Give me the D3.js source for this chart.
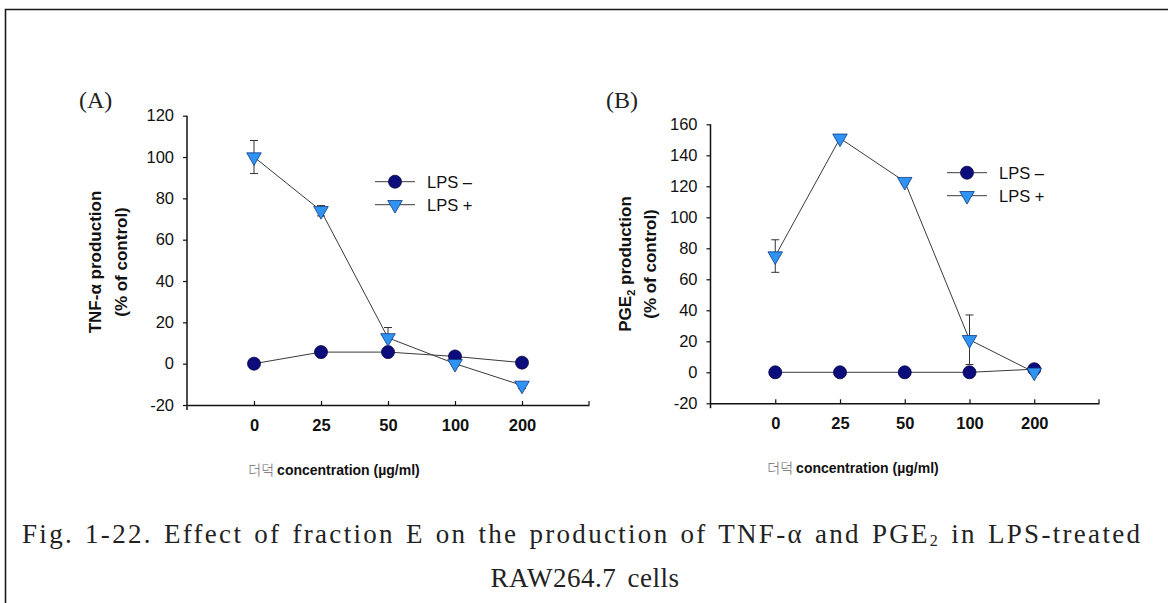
<!DOCTYPE html>
<html>
<head>
<meta charset="utf-8">
<script src="https://cdn.jsdelivr.net/npm/d3@7/dist/d3.min.js"></script>
<style>
  html, body { margin: 0; padding: 0; background: #fff; }
  svg { display: block; }
</style>
</head>
<body>
<script>
// Treatment doses (µg/ml) shared by both panels
const doses = ["0", "25", "50", "100", "200"];

// (A) TNF-α production, % of control
const tnfLpsNeg = [0, 5.6, 5.6, 3.5, 0.5];
const tnfLpsPos = [100, 74, 12.5, 0, -10.5];
const tnfLpsPosErr = [8, 2.5, 5, 1, 1.5];
const tnfTicks = [-20, 0, 20, 40, 60, 80, 100, 120];

// (B) PGE2 production, % of control
const pgeLpsNeg = [0, 0, 0, 0, 2];
const pgeLpsPos = [75, 151, 123, 21, 0];
const pgeLpsPosErr = [10.5, 1.5, 1.5, 16, 1];
const pgeTicks = [-20, 0, 20, 40, 60, 80, 100, 120, 140, 160];

const seriesNames = ["LPS \u2013", "LPS +"];

const W = 1168, H = 603;
const svg = d3.select("body").append("svg")
  .attr("width", W).attr("height", H)
  .attr("viewBox", `0 0 ${W} ${H}`);

const SANS = "'Liberation Sans', Arial, Helvetica, sans-serif";
const SERIF = "'Liberation Serif', 'DejaVu Serif', serif";
const NAVY = "#0c0c7c";
const BLUE = "#2f93f3";

// page frame (top and left rules)
svg.append("path")
  .attr("d", `M5.5,${H} L5.5,9.5 L${W},9.5`)
  .attr("fill", "none").attr("stroke", "#1a1a1a").attr("stroke-width", 1.6);

const triangle = d3.symbol().type(d3.symbolTriangle).size(92);

function drawPanel(cfg) {
  const g = svg.append("g");
  const x = d3.scaleLinear().domain([-1, 5]).range([cfg.x0, cfg.x1]);
  const y = d3.scaleLinear().domain([cfg.ticks[0], cfg.ticks[cfg.ticks.length - 1]])
    .range([cfg.yBot, cfg.yTop]);

  // y axis
  const yAxis = g.append("g")
    .attr("transform", `translate(${cfg.x0},0)`)
    .call(d3.axisLeft(y).tickValues(cfg.ticks).tickSize(4).tickSizeOuter(0).tickPadding(9)
      .tickFormat(d => String(d)));
  yAxis.select(".domain").remove();
  yAxis.append("line")
    .attr("x1", 0).attr("x2", 0).attr("y1", cfg.yTop).attr("y2", cfg.yBot + 5)
    .attr("stroke", "#111").attr("stroke-width", 1.5);
  yAxis.selectAll(".tick line").attr("stroke", "#111").attr("stroke-width", 1.2);
  yAxis.selectAll(".tick text")
    .attr("font-family", SANS).attr("font-size", 16.5).attr("fill", "#111");

  // x axis (category positions)
  const xAxis = g.append("g")
    .attr("transform", `translate(0,${cfg.yBot})`)
    .call(d3.axisBottom(x).tickValues(d3.range(doses.length)).tickSize(-4).tickSizeOuter(0)
      .tickPadding(14).tickFormat(i => doses[i]));
  xAxis.select(".domain").attr("stroke", "#111").attr("stroke-width", 1.5);
  xAxis.selectAll(".tick line").attr("stroke", "#111").attr("stroke-width", 1.2);
  xAxis.selectAll(".tick text")
    .attr("font-family", SANS).attr("font-size", 16.5).attr("font-weight", "bold").attr("fill", "#111");
  xAxis.append("line")
    .attr("x1", cfg.x1).attr("x2", cfg.x1).attr("y1", 0).attr("y2", -4)
    .attr("stroke", "#111").attr("stroke-width", 1.2);

  // x axis title
  const xt = g.append("text")
    .attr("x", cfg.xTitleX).attr("y", cfg.xTitleY)
    .attr("text-anchor", "middle").attr("fill", "#111");
  xt.append("tspan").text("\ub354\ub355 ")
    .attr("font-family", "'Noto Sans CJK KR', sans-serif").attr("font-weight", 300)
    .attr("font-size", 14).attr("fill", "#6a6a6a");
  xt.append("tspan").text("concentration (\u00b5g/ml)")
    .attr("font-family", SANS).attr("font-weight", "bold").attr("font-size", 14);

  // y axis title (two lines, rotated)
  const yt = g.append("g")
    .attr("transform", `translate(${cfg.yTitleX},${cfg.yTitleY}) rotate(-90)`);
  const l1 = yt.append("text").attr("text-anchor", "middle").attr("y", 6)
    .attr("font-family", SANS).attr("font-weight", "bold").attr("font-size", 17).attr("fill", "#111");
  cfg.yTitle1(l1);
  yt.append("text").attr("text-anchor", "middle").attr("y", 6 + cfg.yTitleGap)
    .attr("font-family", SANS).attr("font-weight", "bold").attr("font-size", 17).attr("fill", "#111")
    .text("(% of control)");

  // panel tag
  g.append("text").attr("x", cfg.tagX).attr("y", cfg.tagY)
    .attr("font-family", SERIF).attr("font-size", 24).attr("fill", "#222")
    .text(cfg.tag);

  const line = d3.line().x((d, i) => x(i)).y(d => y(d));

  // connecting lines
  g.append("path").datum(cfg.neg).attr("d", line)
    .attr("fill", "none").attr("stroke", "#3a3a3a").attr("stroke-width", 1);
  g.append("path").datum(cfg.pos).attr("d", line)
    .attr("fill", "none").attr("stroke", "#3a3a3a").attr("stroke-width", 1);

  // error bars on LPS+
  const eb = g.append("g").attr("stroke", "#333").attr("stroke-width", 1);
  cfg.pos.forEach((v, i) => {
    const e = cfg.posErr[i];
    const cx = x(i);
    eb.append("line").attr("x1", cx).attr("x2", cx).attr("y1", y(v - e)).attr("y2", y(v + e));
    eb.append("line").attr("x1", cx - 4).attr("x2", cx + 4).attr("y1", y(v + e)).attr("y2", y(v + e));
    eb.append("line").attr("x1", cx - 4).attr("x2", cx + 4).attr("y1", y(v - e)).attr("y2", y(v - e));
  });

  // LPS- markers
  g.selectAll(null).data(cfg.neg).enter().append("circle")
    .attr("cx", (d, i) => x(i)).attr("cy", d => y(d)).attr("r", 6.5)
    .attr("fill", NAVY).attr("stroke", "#060640").attr("stroke-width", 0.8);
  // LPS+ markers
  g.selectAll(null).data(cfg.pos).enter().append("path")
    .attr("d", triangle)
    .attr("transform", (d, i) => `translate(${x(i)},${y(d)}) rotate(180)`)
    .attr("fill", BLUE).attr("stroke", "#123a80").attr("stroke-width", 0.8);

  // legend
  const lg = g.append("g");
  [0, 1].forEach(k => {
    const ly = k === 0 ? cfg.legY : cfg.legY + 23;
    const mx = (cfg.legX0 + cfg.legX1) / 2;
    lg.append("line").attr("x1", cfg.legX0).attr("x2", cfg.legX1).attr("y1", ly).attr("y2", ly)
      .attr("stroke", "#3a3a3a").attr("stroke-width", 1);
    if (k === 0) {
      lg.append("circle").attr("cx", mx).attr("cy", ly).attr("r", 6.5)
        .attr("fill", NAVY).attr("stroke", "#060640").attr("stroke-width", 0.8);
    } else {
      lg.append("path").attr("d", triangle)
        .attr("transform", `translate(${mx},${ly}) rotate(180)`)
        .attr("fill", BLUE).attr("stroke", "#123a80").attr("stroke-width", 0.8);
    }
    lg.append("text").attr("x", cfg.legX1 + 12).attr("y", ly + 6)
      .attr("font-family", SANS).attr("font-size", 16.5).attr("fill", "#111")
      .text(seriesNames[k]);
  });
}

drawPanel({
  tag: "(A)", tagX: 79, tagY: 108,
  x0: 187, x1: 589, yTop: 115.7, yBot: 405, ticks: tnfTicks,
  neg: tnfLpsNeg, pos: tnfLpsPos, posErr: tnfLpsPosErr,
  xTitleX: 334, xTitleY: 475,
  yTitleX: 95, yTitleY: 262, yTitleGap: 26,
  yTitle1: t => t.text("TNF-\u03b1 production"),
  legX0: 375, legX1: 415, legY: 181.7
});

drawPanel({
  tag: "(B)", tagX: 606, tagY: 108,
  x0: 710.5, x1: 1099, yTop: 124.3, yBot: 403.3, ticks: pgeTicks,
  neg: pgeLpsNeg, pos: pgeLpsPos, posErr: pgeLpsPosErr,
  xTitleX: 853, xTitleY: 473,
  yTitleX: 625, yTitleY: 264, yTitleGap: 25,
  yTitle1: t => {
    t.append("tspan").text("PGE");
    t.append("tspan").text("2").attr("font-size", 11).attr("dy", 4);
    t.append("tspan").text(" production").attr("dy", -4);
  },
  legX0: 947, legX1: 987, legY: 172.7
});

// figure caption
svg.append("text")
  .attr("x", 22).attr("y", 543)
  .attr("font-family", SERIF).attr("font-size", 27).attr("fill", "#222")
  .attr("word-spacing", 2)
  .attr("textLength", 1118).attr("lengthAdjust", "spacing")
  .call(t => {
    t.append("tspan").text("Fig. 1-22. Effect of fraction E on the production of TNF-\u03b1 and PGE");
    t.append("tspan").text("2").attr("font-size", 16).attr("dy", 3);
    t.append("tspan").text(" in LPS-treated").attr("dy", -3);
  });
svg.append("text")
  .attr("x", 585).attr("y", 587).attr("text-anchor", "middle")
  .attr("font-family", SERIF).attr("font-size", 27).attr("fill", "#222")
  .attr("letter-spacing", 0.5).attr("word-spacing", 4)
  .text("RAW264.7 cells");
</script>
</body>
</html>
